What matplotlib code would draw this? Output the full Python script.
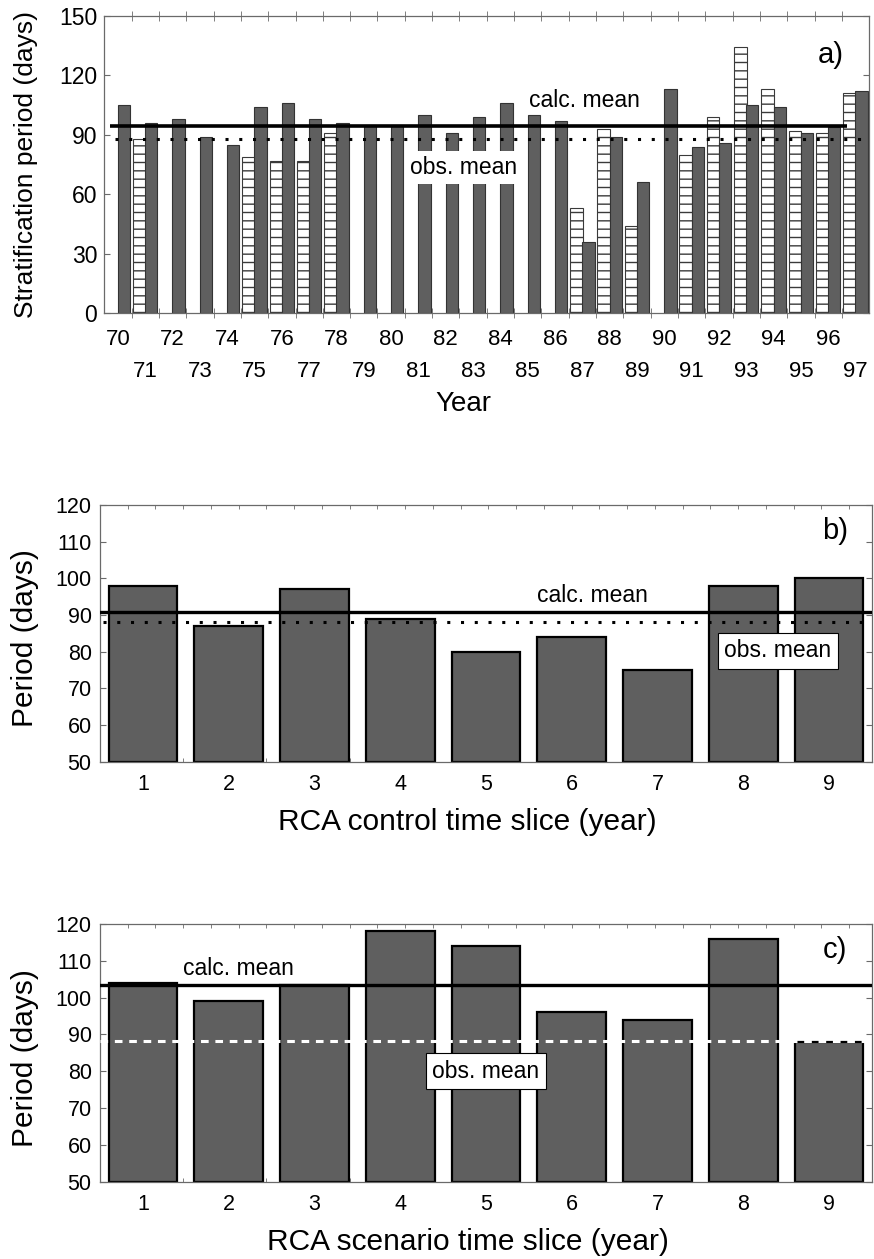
#!/usr/bin/env python
"""Stratification period: observed vs. calculated (a) and RCA time slices (b, c)."""

import matplotlib

matplotlib.use("Agg")
import matplotlib.pyplot as plt
import numpy as np

plt.rcParams["font.family"] = ["Liberation Sans", "DejaVu Sans"]
plt.rcParams["hatch.linewidth"] = 1.0

nan = np.nan

# panel a: years 1970-1997, observed (hatched) and calculated (dark)
YEARS = list(range(70, 98))
OBS_DAYS = [nan, 88, nan, nan, nan, 79, 77, 77, 91, nan,
            nan, nan, nan, nan, nan, nan, nan, 53, 93, 44,
            nan, 80, 99, 134, 113, 92, 91, 111]
CALC_DAYS = [105, 96, 98, 89, 85, 104, 106, 98, 96, 95,
             95, 100, 91, 99, 106, 100, 97, 36, 89, 66,
             113, 84, 86, 105, 104, 91, 94, 112]
CALC_MEAN_A = 94.3
OBS_MEAN = 88.1

# panels b and c: RCA time slices
SLICES = [1, 2, 3, 4, 5, 6, 7, 8, 9]
CONTROL_DAYS = [98, 87, 97, 89, 80, 84, 75, 98, 100]
SCENARIO_DAYS = [104, 99, 103.5, 118, 114, 96, 94, 116, 88]
CALC_MEAN_B = 90.8
CALC_MEAN_C = 103.4

DARK = "#5f5f5f"
FRAME = "#6a6a6a"


def style_frame(ax):
    for sp in ax.spines.values():
        sp.set_color(FRAME)
        sp.set_linewidth(0.9)


fig = plt.figure(figsize=(8.74, 12.59), dpi=100)

# ---------------------------------------------------------------- panel a
ax = fig.add_axes([0.1193, 0.7512, 0.8753, 0.2363])
x = np.array(YEARS)
ax.bar(x - 0.22, OBS_DAYS, width=0.46, color="white", edgecolor="#3a3a3a",
       hatch="--", linewidth=0.8, zorder=2)
ax.bar(x + 0.22, CALC_DAYS, width=0.45, color=DARK, edgecolor="#333333",
       linewidth=0.8, zorder=2)
ax.hlines(CALC_MEAN_A, 69.71, 96.7, color="black", lw=2.6, zorder=4)
ax.hlines(OBS_MEAN, 69.9, 97.5, color="black", lw=2.2,
          linestyles=[(0, (1, 3.5))], zorder=4)
ax.text(87.07, 107.5, "calc. mean", ha="center", va="center", fontsize=16.5,
        zorder=5)
ax.text(82.64, 73.5, "obs. mean", ha="center", va="center", fontsize=16.5,
        zorder=5, bbox=dict(boxstyle="square,pad=0.2", fc="white", ec="none"))
ax.text(96.1, 130, "a)", ha="center", va="center", fontsize=21)

ax.set_xlim(69.5, 97.5)
ax.set_ylim(0, 150)
ax.set_yticks(range(0, 151, 30))
ax.set_xticks(YEARS)
ax.set_xticklabels([str(y) if y % 2 == 0 else "\n" + str(y) for y in YEARS])
for t in ax.get_xticklabels():
    t.set_linespacing(1.7)
ax.set_xticks(np.arange(70.5, 97.5, 1.0), minor=True)
ax.tick_params(axis="x", which="major", length=0, pad=11, labelsize=16)
ax.tick_params(axis="x", which="minor", direction="inout", length=7,
               top=True, bottom=True, color=FRAME)
ax.tick_params(axis="y", direction="in", length=4, right=True, left=True,
               labelsize=16.5, pad=5, color=FRAME)
ax.set_ylabel("Stratification period (days)", fontsize=19)
ax.yaxis.set_label_coords(-0.086, 0.5)
ax.set_xlabel("Year", fontsize=20)
ax.xaxis.set_label_coords(0.47, -0.261)
style_frame(ax)


# ---------------------------------------------------------- panels b and c
def slice_panel(rect, values, calc_mean, obs_color, obs_style, obs_span,
                calc_xy, obs_xy, tag, xlabel):
    ax = fig.add_axes(rect)
    ax.bar(SLICES, np.array(values) - 50, bottom=50, width=0.8, color=DARK,
           edgecolor="black", linewidth=1.6, zorder=2)
    ax.axhline(calc_mean, color="black", lw=2.4, zorder=4)
    ax.hlines(OBS_MEAN, obs_span[0], obs_span[1], color=obs_color, lw=2.2,
              linestyles=[obs_style], zorder=4)
    ax.text(calc_xy[0], calc_xy[1], "calc. mean", ha="center", va="center",
            fontsize=16.5, zorder=5)
    ax.text(obs_xy[0], obs_xy[1], "obs. mean", ha="center", va="center",
            fontsize=16.5, zorder=5,
            bbox=dict(boxstyle="square,pad=0.28", fc="white", ec="black",
                      lw=0.8))
    ax.text(9.07, 113, tag, ha="center", va="center", fontsize=21)
    ax.set_xlim(0.5, 9.5)
    ax.set_ylim(50, 120)
    ax.set_xticks(SLICES)
    ax.set_yticks(range(50, 121, 10))
    ax.set_xticks(np.arange(0.5 + 0.3235, 9.5, 0.3235), minor=True)
    ax.tick_params(axis="x", which="major", length=0, pad=9, labelsize=15.5)
    ax.tick_params(axis="x", which="minor", direction="in", length=3,
                   top=True, bottom=True, color=FRAME)
    ax.tick_params(axis="y", direction="in", length=4, right=True, left=True,
                   labelsize=15.5, pad=6, color=FRAME)
    ax.set_ylabel("Period (days)", fontsize=21.5)
    ax.yaxis.set_label_coords(-0.079, 0.48)
    ax.set_xlabel(xlabel, fontsize=21.5)
    ax.xaxis.set_label_coords(0.476, -0.18)
    style_frame(ax)
    return ax


slice_panel([0.1144, 0.3949, 0.8833, 0.2041], CONTROL_DAYS, CALC_MEAN_B,
            "black", (0, (1, 3.5)), (0.535, 9.44), (6.24, 95.2), (8.4, 80.2),
            "b)", "RCA control time slice (year)")
slice_panel([0.1144, 0.0614, 0.8833, 0.2047], SCENARIO_DAYS, CALC_MEAN_C,
            "white", (0, (2.5, 2.2)), (0.5, 9.5), (2.11, 107.8), (5.0, 80.0),
            "c)", "RCA scenario time slice (year)")

fig.savefig("out.png", dpi=100)
